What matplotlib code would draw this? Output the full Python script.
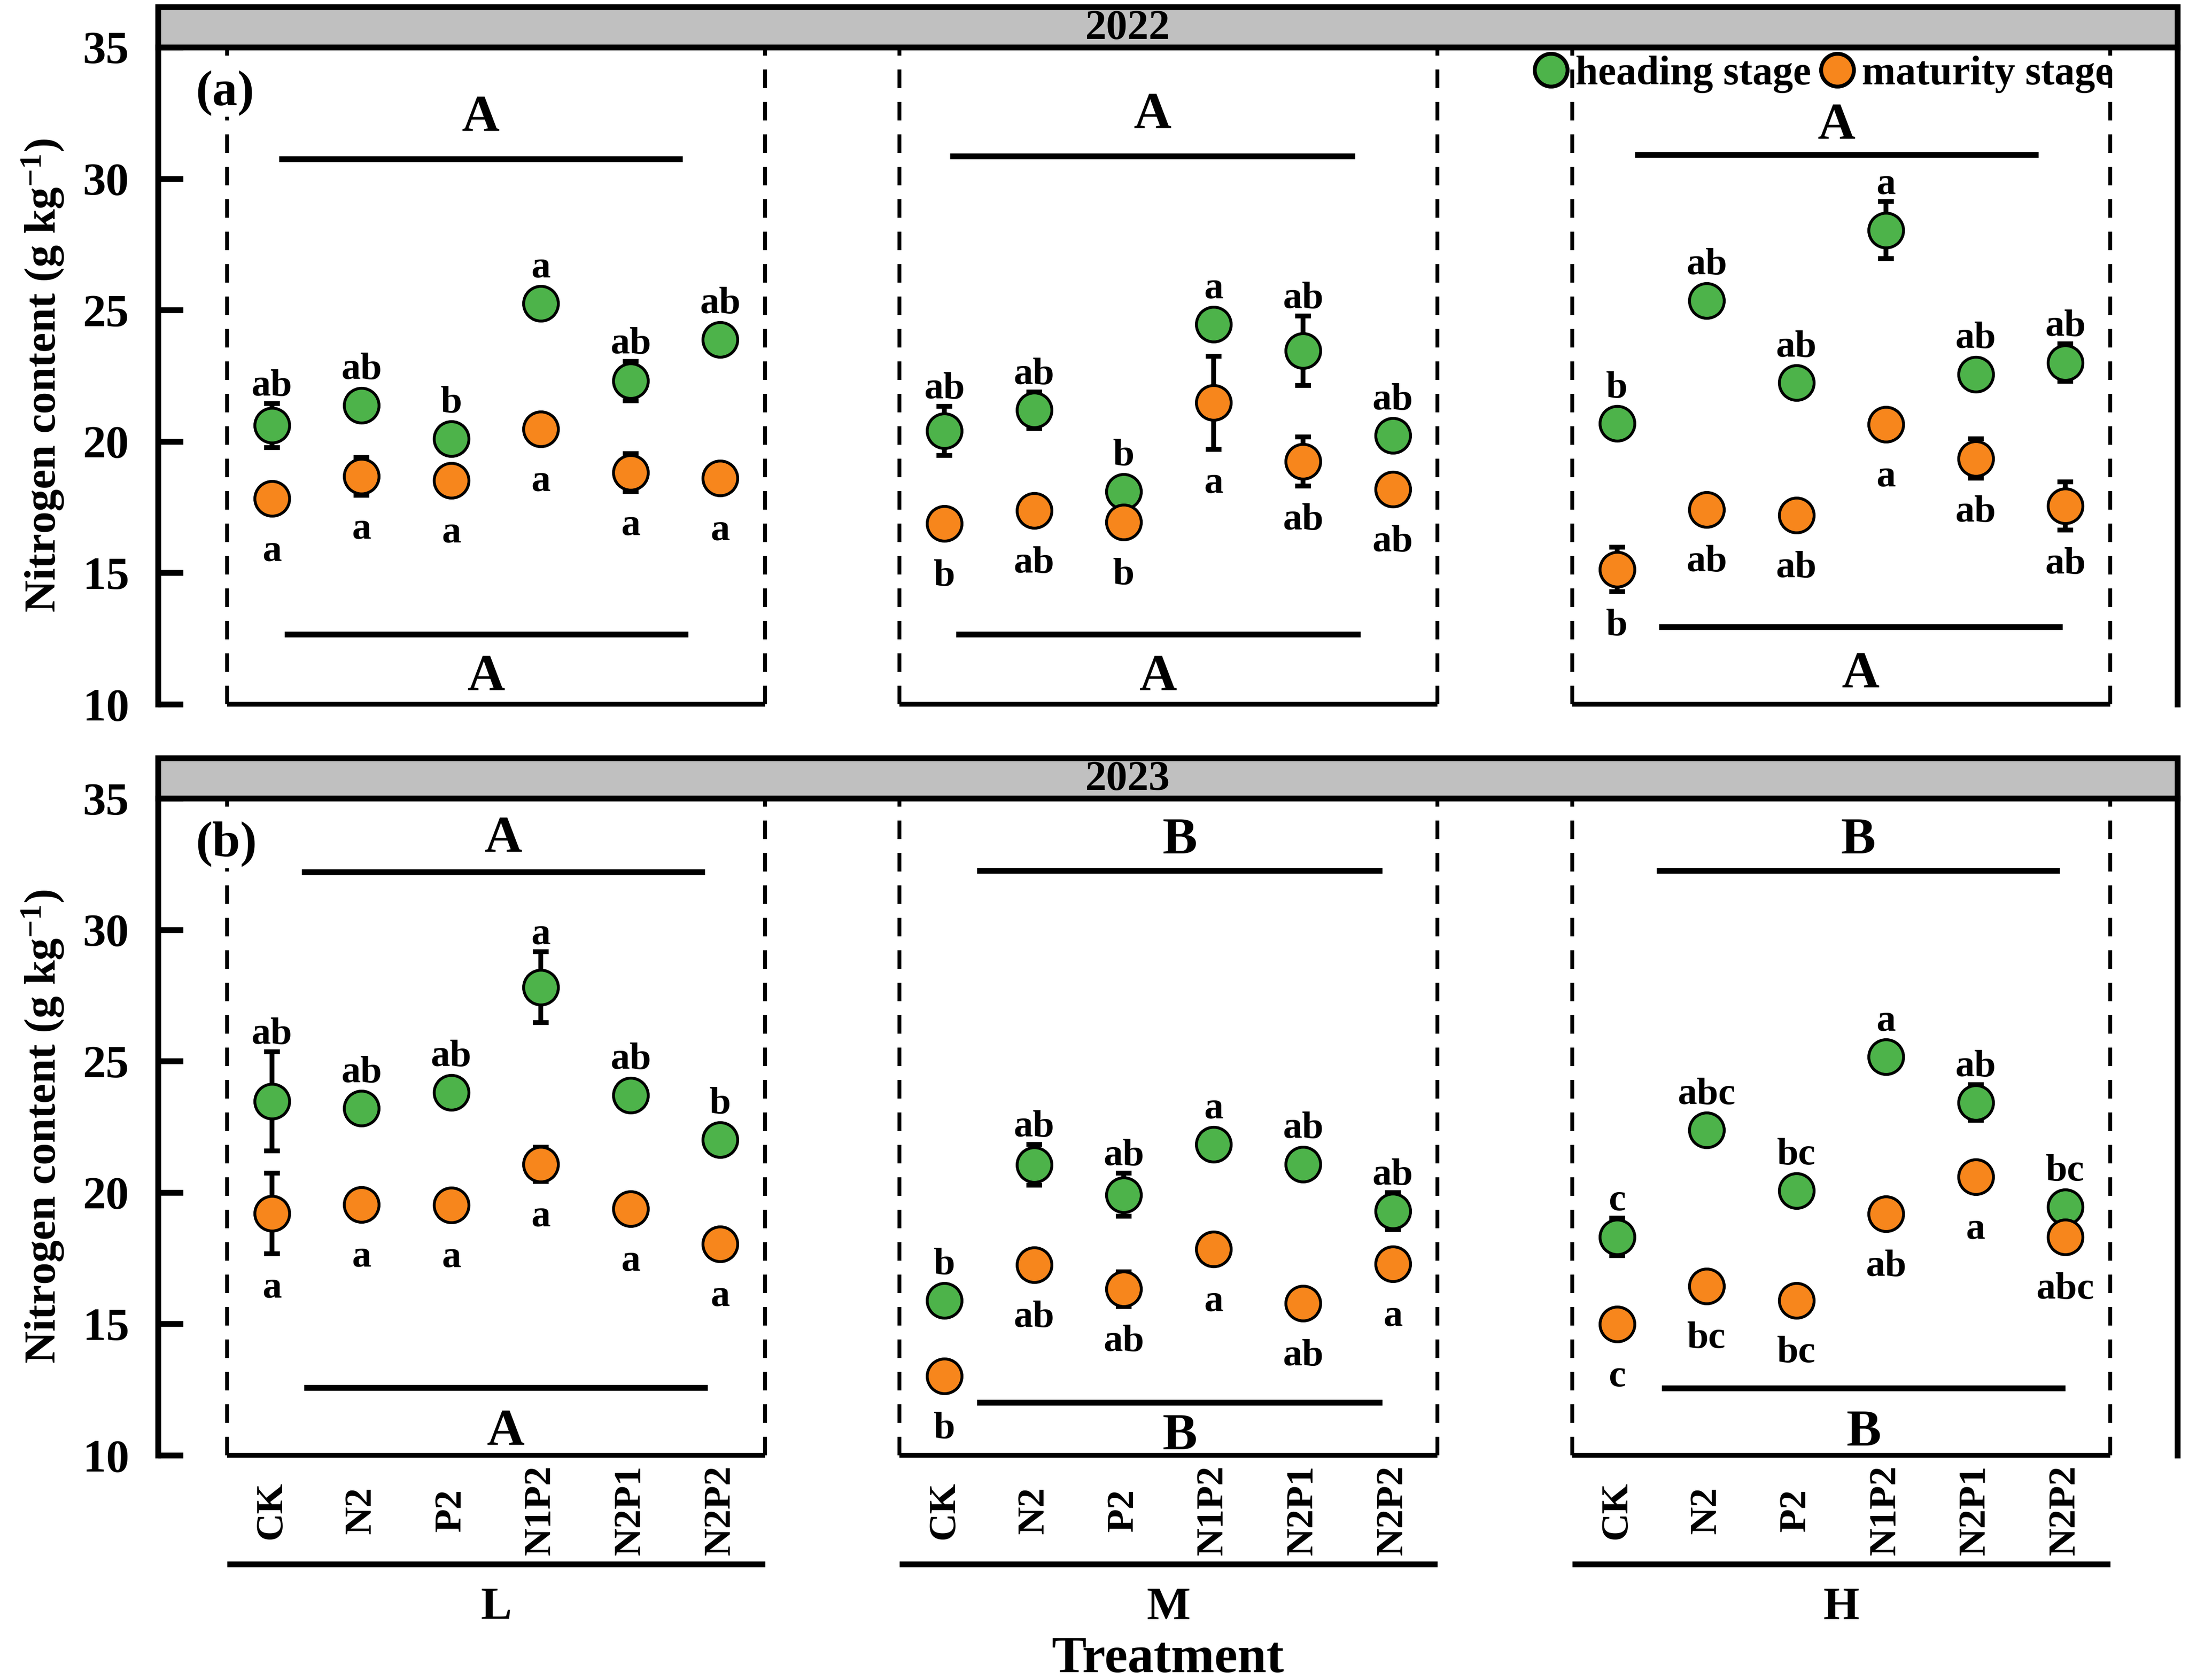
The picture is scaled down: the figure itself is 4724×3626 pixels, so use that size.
import numpy as np
import matplotlib
matplotlib.use('Agg')
import matplotlib.pyplot as plt
import matplotlib.transforms as mtransforms
from matplotlib.lines import Line2D
from matplotlib.patches import Rectangle

plt.rcParams['font.family'] = ['Liberation Serif', 'DejaVu Serif']
plt.rcParams['font.weight'] = 'bold'
plt.rcParams['mathtext.fontset'] = 'custom'
plt.rcParams['mathtext.rm'] = 'Liberation Serif:bold'
plt.rcParams['mathtext.bf'] = 'Liberation Serif:bold'
plt.rcParams['mathtext.it'] = 'Liberation Serif:bold'

# categories
treatments = ['CK', 'N2', 'P2', 'N1P2', 'N2P1', 'N2P2']
levels = ['L', 'M', 'H']
years = ['2022', '2023']

# 2022, order: L (6 treatments), M (6), H (6)
head_2022 = [20.61, 21.37, 20.11, 25.25, 22.30, 23.88,
             20.40, 21.19, 18.09, 24.46, 23.45, 20.22,
             20.68, 25.36, 22.23, 28.04, 22.55, 23.00]
head_2022_se = [0.84, 0.45, 0.30, 0.30, 0.75, 0.30,
                0.94, 0.70, 0.30, 0.40, 1.32, 0.40,
                0.40, 0.40, 0.40, 1.08, 0.40, 0.72]
head_2022_sig = ['ab', 'ab', 'b', 'a', 'ab', 'ab',
                 'ab', 'ab', 'b', 'a', 'ab', 'ab',
                 'b', 'ab', 'ab', 'a', 'ab', 'ab']
mat_2022 = [17.82, 18.67, 18.51, 20.47, 18.81, 18.60,
            16.87, 17.37, 16.92, 21.47, 19.24, 18.18,
            15.13, 17.41, 17.19, 20.65, 19.35, 17.55]
mat_2022_se = [0.40, 0.72, 0.40, 0.40, 0.72, 0.40,
               0.40, 0.40, 0.40, 1.77, 0.93, 0.40,
               0.85, 0.40, 0.40, 0.40, 0.75, 0.92]
mat_2022_sig = ['a', 'a', 'a', 'a', 'a', 'a',
                'b', 'ab', 'b', 'a', 'ab', 'ab',
                'b', 'ab', 'ab', 'a', 'ab', 'ab']

# 2023
head_2023 = [23.47, 23.20, 23.81, 27.81, 23.70, 22.01,
             15.89, 21.05, 19.91, 21.83, 21.07, 19.29,
             18.31, 22.37, 20.07, 25.16, 23.42, 19.45]
head_2023_se = [1.88, 0.40, 0.40, 1.35, 0.40, 0.40,
                0.40, 0.78, 0.82, 0.40, 0.40, 0.70,
                0.72, 0.40, 0.40, 0.40, 0.68, 0.40]
head_2023_sig = ['ab', 'ab', 'ab', 'a', 'ab', 'b',
                 'b', 'ab', 'ab', 'a', 'ab', 'ab',
                 'c', 'abc', 'bc', 'a', 'ab', 'bc']
mat_2023 = [19.20, 19.54, 19.52, 21.07, 19.38, 18.04,
            13.01, 17.24, 16.32, 17.85, 15.78, 17.28,
            14.98, 16.44, 15.89, 19.18, 20.59, 18.31]
mat_2023_se = [1.54, 0.40, 0.40, 0.65, 0.40, 0.40,
               0.40, 0.40, 0.66, 0.40, 0.40, 0.40,
               0.40, 0.40, 0.40, 0.40, 0.40, 0.40]
mat_2023_sig = ['a', 'a', 'a', 'a', 'a', 'a',
                'b', 'ab', 'ab', 'a', 'ab', 'a',
                'c', 'bc', 'bc', 'ab', 'a', 'abc']

# group-level letters (heading on top, maturity below)
group_head_2022 = ['A', 'A', 'A']
group_mat_2022 = ['A', 'A', 'A']
group_head_2023 = ['A', 'B', 'B']
group_mat_2023 = ['A', 'B', 'B']

series = {
    '2022': (head_2022, head_2022_se, head_2022_sig, mat_2022, mat_2022_se, mat_2022_sig,
             group_head_2022, group_mat_2022),
    '2023': (head_2023, head_2023_se, head_2023_sig, mat_2023, mat_2023_se, mat_2023_sig,
             group_head_2023, group_mat_2023),
}

# layout of the group bars: (x0, x1, y, letter y) relative to the group start
top_bars = {'2022': [(0.58, 5.08, 30.75, 31.8), (0.56, 5.08, 30.85, 31.9), (0.70, 5.20, 30.90, 31.5)],
            '2023': [(0.83, 5.33, 32.20, 32.95), (0.86, 5.38, 32.25, 32.9), (0.94, 5.44, 32.25, 32.9)]}
bot_bars = {'2022': [(0.64, 5.14, 12.66, 11.9), (0.63, 5.14, 12.66, 11.9), (0.97, 5.47, 12.95, 12.0)],
            '2023': [(0.86, 5.36, 12.58, 11.75), (0.86, 5.38, 12.01, 11.6), (1.00, 5.50, 12.56, 11.75)]}
panel_tags = {'2022': '(a)', '2023': '(b)'}

green = '#4DB34A'
orange = '#F7861C'
group_gap = 7.5
r = 0.7  # marker radius in data units

fig = plt.figure(figsize=(4724 / 300, 3626 / 300), dpi=300)
ax_pos = {'2022': [0.0722, 0.5808, 0.9225, 0.3911],
          '2023': [0.0722, 0.1338, 0.9225, 0.3910]}

for year in years:
    hm, hs, hl, mm, ms, ml, gh, gm = series[year]
    ax = fig.add_axes(ax_pos[year])
    ax.set_xlim(-0.77, 21.75)
    ax.set_ylim(10, 35)
    for s in ['top', 'bottom']:
        ax.spines[s].set_visible(False)
    for s in ['left', 'right']:
        ax.spines[s].set_linewidth(3)
    ax.set_xticks([])
    ax.set_yticks(range(10, 36, 5))
    ax.tick_params(axis='y', direction='in', length=13, width=3, labelsize=24, pad=15)

    # strip with year
    ax.add_patch(Rectangle((0, 1), 1, 0.0614, transform=ax.transAxes, facecolor='#c0c0c0',
                           edgecolor='black', lw=3, clip_on=False, zorder=5))
    ax.text(0.48, 1.028, year, transform=ax.transAxes, ha='center', va='center',
            fontsize=22, fontweight='bold', zorder=6)

    ax.text(-0.35, 33.25, panel_tags[year], ha='left', va='center', fontsize=26, fontweight='bold',
            zorder=6, bbox=dict(facecolor='white', edgecolor='none', pad=0.5))
    ax.text(-0.057, 0.5, r'Nitrogen content (g kg$^{-1}$)', transform=ax.transAxes,
            rotation=90, ha='center', va='center', fontsize=23, fontweight='bold')

    for i, lev in enumerate(levels):
        g0 = group_gap * i
        # dashed box
        for xb in [g0, g0 + 6]:
            ax.plot([xb, xb], [10, 35], color='black', lw=2, ls=(0, (4.8, 3.6)), clip_on=False)
        ax.plot([g0, g0 + 6], [10, 10], color='black', lw=2.5, clip_on=False, solid_capstyle='butt')

        x = g0 + 0.5 + np.arange(len(treatments))
        sl = slice(6 * i, 6 * i + 6)
        for mean, se, sig, col, up in [(hm[sl], hs[sl], hl[sl], green, True),
                                        (mm[sl], ms[sl], ml[sl], orange, False)]:
            ax.errorbar(x, mean, yerr=se, fmt='none', ecolor='black', elinewidth=2.5,
                        capsize=4, capthick=2.5, zorder=3)
            ax.plot(x, mean, 'o', ms=18, mfc=col, mec='black', mew=1.5, ls='none', zorder=4)
            for xi, m, e, t in zip(x, mean, se, sig):
                if up:
                    ax.text(xi, m + max(e, r) + 0.3, t, ha='center', va='baseline',
                            fontsize=20, fontweight='bold')
                else:
                    ax.text(xi, m - max(e, r) - 0.65, t, ha='center', va='top',
                            fontsize=20, fontweight='bold')

        # group bars and letters
        x0, x1, yb, yl = top_bars[year][i]
        ax.plot([g0 + x0, g0 + x1], [yb, yb], color='black', lw=3, solid_capstyle='butt')
        ax.text(g0 + (x0 + x1) / 2, yl, gh[i], ha='center', va='baseline', fontsize=27, fontweight='bold')
        x0, x1, yb, yl = bot_bars[year][i]
        ax.plot([g0 + x0, g0 + x1], [yb, yb], color='black', lw=3, solid_capstyle='butt')
        ax.text(g0 + (x0 + x1) / 2, yl, gm[i], ha='center', va='top', fontsize=27, fontweight='bold')

    if year == '2022':
        handles = [Line2D([], [], marker='o', ls='none', ms=17, mfc=green, mec='black', mew=2),
                   Line2D([], [], marker='o', ls='none', ms=17, mfc=orange, mec='black', mew=2)]
        ax.legend(handles, ['heading stage', 'maturity stage'], ncol=2, loc='center left',
                  bbox_to_anchor=(14.54, 33.97), bbox_transform=ax.transData, frameon=False,
                  borderpad=0, borderaxespad=0, handlelength=1.0, handletextpad=0.1,
                  columnspacing=0.15, prop={'size': 21, 'weight': 'bold'})
    else:
        trans = mtransforms.blended_transform_factory(ax.transData, ax.transAxes)
        for i, lev in enumerate(levels):
            g0 = group_gap * i
            for j, t in enumerate(treatments):
                ax.text(g0 + 0.5 + j, -0.084, t, transform=trans, rotation=90,
                        ha='center', va='center', fontsize=20, fontweight='bold')
            ax.plot([g0, g0 + 6], [-0.166, -0.166], color='black', lw=3, transform=trans,
                    clip_on=False, solid_capstyle='butt')
            ax.text(g0 + 3, -0.232, lev, transform=trans, ha='center', va='center',
                    fontsize=24, fontweight='bold')
        ax.text(0.5, -0.311, 'Treatment', transform=ax.transAxes, ha='center', va='center',
                fontsize=27, fontweight='bold')

fig.savefig('out.png', dpi=300)
